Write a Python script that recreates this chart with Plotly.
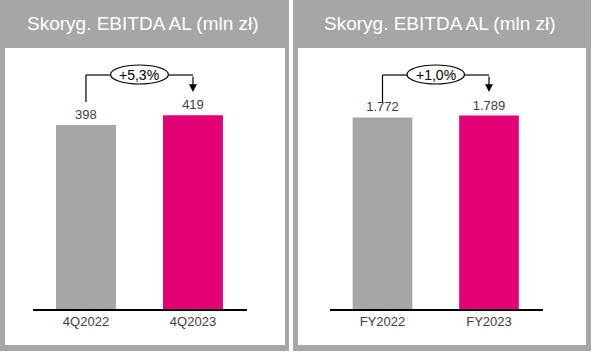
import plotly.graph_objects as go

W, H = 593, 353

# ---- data ----
categories_q = ["4Q2022", "4Q2023"]
values_q = [398, 419]
change_q = "+5,3%"

categories_fy = ["FY2022", "FY2023"]
values_fy = [1772, 1789]
change_fy = "+1,0%"

title_text = "Skoryg. EBITDA AL (mln zł)"

GRAY = "#a6a6a6"
PINK = "#e20074"
TXT = "#404040"
FONT = "Liberation Sans, Arial, sans-serif"


def px(xp):
    return xp / W


def py(yp):
    return 1 - yp / H


def fmt(v):
    return f"{v:,}".replace(",", ".")


fig = go.Figure()

fig.add_trace(go.Bar(
    x=categories_q, y=values_q, xaxis="x", yaxis="y",
    marker=dict(color=[GRAY, PINK], line=dict(width=0)),
    width=0.56,
    text=[fmt(v) for v in values_q], textposition="outside",
    textfont=dict(size=13, color=TXT, family=FONT),
    cliponaxis=False, hoverinfo="skip",
))
fig.add_trace(go.Bar(
    x=categories_fy, y=values_fy, xaxis="x2", yaxis="y2",
    marker=dict(color=[GRAY, PINK], line=dict(width=0)),
    width=0.56,
    text=[fmt(v) for v in values_fy], textposition="outside",
    textfont=dict(size=13, color=TXT, family=FONT),
    cliponaxis=False, hoverinfo="skip",
))

shapes = []
annotations = []

# panels
panels = [(0, 289, 5, 285), (293, 591, 298, 586)]
for ox0, ox1, ix0, ix1 in panels:
    shapes.append(dict(type="rect", xref="paper", yref="paper",
                       x0=px(ox0), x1=px(ox1), y0=py(351), y1=py(0),
                       fillcolor=GRAY, line=dict(width=0), layer="below"))
    shapes.append(dict(type="rect", xref="paper", yref="paper",
                       x0=px(ix0), x1=px(ix1), y0=py(345), y1=py(48),
                       fillcolor="white", line=dict(width=0), layer="below"))
    annotations.append(dict(text=title_text, xref="paper", yref="paper",
                            x=px((ox0 + ox1) / 2 - 2), y=py(24),
                            xanchor="center", yanchor="middle", showarrow=False,
                            font=dict(size=19, color="white", family=FONT)))

# connectors
for xr, label in [("x", change_q), ("x2", change_fy)]:
    ln = dict(color="black", width=1.2)
    shapes.append(dict(type="line", xref=xr, yref="paper",
                       x0=0, x1=0, y0=py(102), y1=py(75), line=ln))
    shapes.append(dict(type="line", xref=xr, yref="paper",
                       x0=0, x1=0.23, y0=py(75), y1=py(75), line=ln))
    shapes.append(dict(type="line", xref=xr, yref="paper",
                       x0=0.77, x1=1, y0=py(75), y1=py(75), line=ln))
    shapes.append(dict(type="circle", xref=xr, yref="paper",
                       x0=0.23, x1=0.77, y0=py(84), y1=py(65),
                       fillcolor="white", line=dict(color="black", width=1.2)))
    annotations.append(dict(text=label, xref=xr, yref="paper", x=0.5, y=py(74.5),
                            xanchor="center", yanchor="middle", showarrow=False,
                            font=dict(size=14, color="black", family=FONT)))
    annotations.append(dict(text="", xref=xr, yref="paper", x=1, y=py(92),
                            ax=0, ay=-17, showarrow=True, arrowhead=2,
                            arrowsize=1.3, arrowwidth=1.2, arrowcolor="black",
                            standoff=0))

axis_common = dict(showgrid=False, zeroline=False, showline=True,
                   linecolor="black", linewidth=1.5, ticks="",
                   tickfont=dict(size=13, color=TXT, family=FONT),
                   fixedrange=True)
yaxis_common = dict(visible=False, showgrid=False, zeroline=False, fixedrange=True)

fig.update_layout(
    width=W, height=H,
    margin=dict(l=0, r=0, t=0, b=0),
    paper_bgcolor="white", plot_bgcolor="rgba(0,0,0,0)",
    showlegend=False,
    xaxis=dict(domain=[px(33), px(247)], range=[-0.495, 1.505], anchor="y", **axis_common),
    yaxis=dict(domain=[py(309), py(48)], range=[0, 261 / 0.4625], anchor="x", **yaxis_common),
    xaxis2=dict(domain=[px(330), px(543)], range=[-0.493, 1.507], anchor="y2", **axis_common),
    yaxis2=dict(domain=[py(309), py(48)], range=[0, 261 / 0.1081], anchor="x2", **yaxis_common),
    shapes=shapes, annotations=annotations,
    font=dict(family=FONT),
)

fig.write_html("out.html")
